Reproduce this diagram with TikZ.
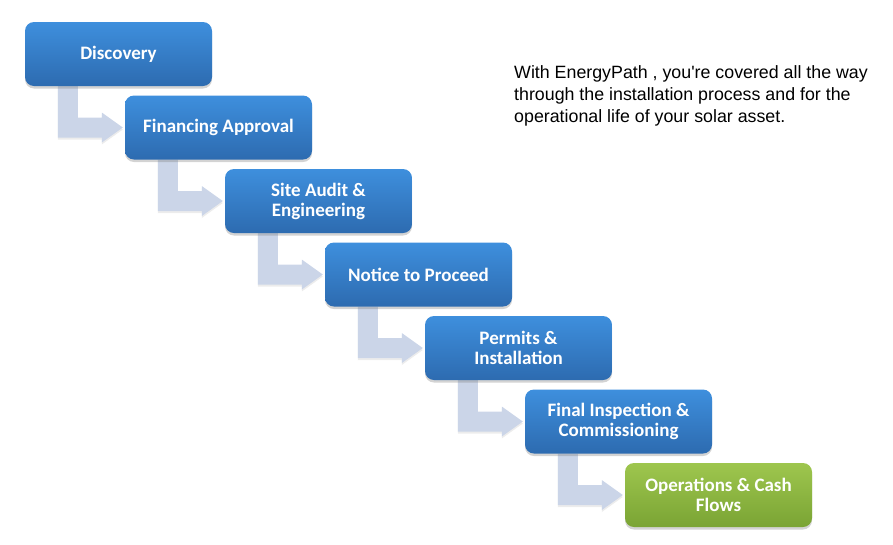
\documentclass[tikz,border=0pt]{standalone}
\usepackage{fontspec}
\setmainfont{Liberation Sans}
\newfontfamily\notefont[Ligatures=ResetAll]{Liberation Sans}
\newfontfamily\boxfont{Carlito}
\usetikzlibrary{shadows,backgrounds,calc}
\definecolor{bluetop}{RGB}{62,143,221}
\definecolor{bluebot}{RGB}{45,107,176}
\definecolor{greentop}{RGB}{158,198,78}
\definecolor{greenbot}{RGB}{122,164,52}
\definecolor{arrowc}{RGB}{203,213,232}
\begin{document}
\begin{tikzpicture}[x=1pt,y=-1pt,
  stepbox/.style={rounded corners=9pt, minimum width=187pt, minimum height=64pt,
    top color=bluetop, bottom color=bluebot, draw=none, text=white,
    font=\boxfont\bfseries\fontsize{19}{20}\selectfont, align=center,
    drop shadow={shadow xshift=0pt, shadow yshift=-2.5pt, opacity=0.35}},
  greenbox/.style={stepbox, top color=greentop, bottom color=greenbot},
  bentarrow/.style={fill=arrowc, drop shadow={shadow xshift=0pt, shadow yshift=-2pt, opacity=0.15}}]
\useasboundingbox (0,0) rectangle (893,544);
\node[stepbox] (b1) at (118.5,54) {Discovery};
\node[stepbox] (b2) at (218.5,127.5) {Financing Approval};
\node[stepbox] (b3) at (318.5,201) {Site Audit \&\\Engineering};
\node[stepbox] (b4) at (418.5,274.5) {Notice to Proceed};
\node[stepbox] (b5) at (518.5,348) {Permits \&\\Installation};
\node[stepbox] (b6) at (618.5,421.5) {Final Inspection \&\\Commissioning};
\node[greenbox] (b7) at (718.5,495) {Operations \& Cash\\Flows};
\begin{pgfonlayer}{background}
\foreach \a/\b in {b1/b2,b2/b3,b3/b4,b4/b5,b5/b6,b6/b7}{
  \path[bentarrow] let \p1=(\a.south west), \p2=(\b.west) in
    (\x1+33pt,\y1) -- (\x1+53pt,\y1) -- (\x1+53pt,\y2+10pt) -- (\x2-23pt,\y2+10pt)
    -- (\x2-23pt,\y2+15pt) -- (\x2-2pt,\y2) -- (\x2-23pt,\y2-15pt)
    -- (\x2-23pt,\y2-10pt) -- (\x1+33pt,\y2-10pt) -- cycle;
}
\end{pgfonlayer}
\node[anchor=north west, inner sep=0pt, align=left, font=\notefont\fontsize{17.8}{22}\selectfont] (note) at (514,65)
  {With EnergyPath , you're covered all the way\\through the installation process and for the\\operational life of your solar asset.};
\end{tikzpicture}
\end{document}
